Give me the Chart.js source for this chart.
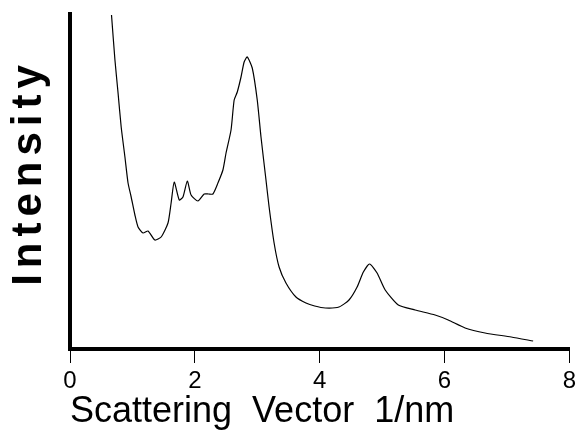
<!DOCTYPE html>
<html>
<head>
<meta charset="utf-8">
<script src="https://cdn.jsdelivr.net/npm/chart.js@4"></script>
<style>
  html, body { margin: 0; padding: 0; background: #fff; }
  #wrap { width: 580px; height: 430px; }
</style>
</head>
<body>
<div id="wrap"><canvas id="myChart"></canvas></div>
<script>
// scattering vector (1/nm)
const qValues = [0.665, 0.72, 0.77, 0.82, 0.88, 0.93, 0.98, 1.04, 1.09, 1.17, 1.25, 1.36, 1.46, 1.57,
    1.62, 1.67, 1.75, 1.81, 1.88, 1.94, 2.05, 2.15, 2.22, 2.29, 2.37, 2.45, 2.50, 2.58, 2.63, 2.68,
    2.74, 2.79, 2.84, 2.92, 3.00, 3.06, 3.14, 3.19, 3.27, 3.35, 3.46, 3.62, 3.78, 3.92, 4.09, 4.31,
    4.47, 4.60, 4.70, 4.80, 4.92, 5.05, 5.26, 5.53, 5.85, 6.06, 6.33, 6.65, 7.07, 7.42];
// intensity in arbitrary units
const intensity = [334, 289, 256, 222, 192, 166, 152, 134, 122, 116, 118, 109, 112, 126,
    146, 167, 149, 152, 168, 154, 148, 155, 155, 155, 166, 179, 196, 219, 249, 257,
    272, 287, 292, 281, 249, 212, 169, 142, 106, 82, 66, 52, 46, 43, 41, 42,
    49, 62, 77, 85, 76, 59, 44, 39, 34, 29, 21, 16, 12, 8];
const xTicks = [0, 2, 4, 6, 8];

const ctx = document.getElementById('myChart');

let points = qValues.map((q, i) => ({ x: q, y: intensity[i] }));

// the y title in the figure is letter-spaced and sits a bit above centre
const spacedTitle = {
    id: 'spacedTitle',
    afterLayout(chart) {
        const s = chart.scales.y;
        if (s._spaced) return;
        const orig = s.drawTitle.bind(s);
        s.drawTitle = function () {
            const c = chart.ctx;
            c.save();
            c.letterSpacing = '6px';
            c.translate(0, -9);
            orig();
            c.restore();
        };
        s._spaced = true;
    }
};

let options = {
    responsive: true,
    maintainAspectRatio: false,
    animation: false,
    layout: { padding: { top: 14, right: 8, bottom: 0, left: 0 } },
    plugins: { legend: { display: false }, tooltip: { enabled: false } },
    scales: {
        x: {
            type: 'linear',
            min: 0,
            max: 8,
            afterBuildTicks: (scale) => { scale.ticks = xTicks.map(v => ({ value: v })); },
            afterFit: (scale) => { scale.height = 81; },
            border: { display: true, color: '#000', width: 4 },
            grid: { drawOnChartArea: false, drawTicks: true, tickLength: 14, tickWidth: 1, tickColor: '#000' },
            ticks: { color: '#000', padding: 4, maxRotation: 0, font: { family: 'Liberation Sans', size: 24 } },
            title: {
                display: true,
                text: 'Scattering  Vector  1/nm',
                align: 'start',
                color: '#000',
                padding: 0,
                font: { family: 'Liberation Sans', size: 36, lineHeight: 1 }
            }
        },
        y: {
            min: 0,
            max: 335,
            afterFit: (scale) => { scale.width = 70; },
            border: { display: true, color: '#000', width: 4 },
            grid: { display: false },
            ticks: { display: false },
            title: {
                display: true,
                text: 'Intensity',
                color: '#000',
                padding: { top: 4, bottom: 0 },
                font: { family: 'Liberation Sans', size: 42, weight: 'bold', lineHeight: 1.2 }
            }
        }
    }
};

const myChart = new Chart(ctx, {
    type: 'scatter',
    data: {
        datasets: [{
            data: points,
            showLine: true,
            borderColor: '#000',
            borderWidth: 1.2,
            pointRadius: 0,
            tension: 0.2
        }]
    },
    options: options,
    plugins: [spacedTitle]
});
</script>
</body>
</html>
